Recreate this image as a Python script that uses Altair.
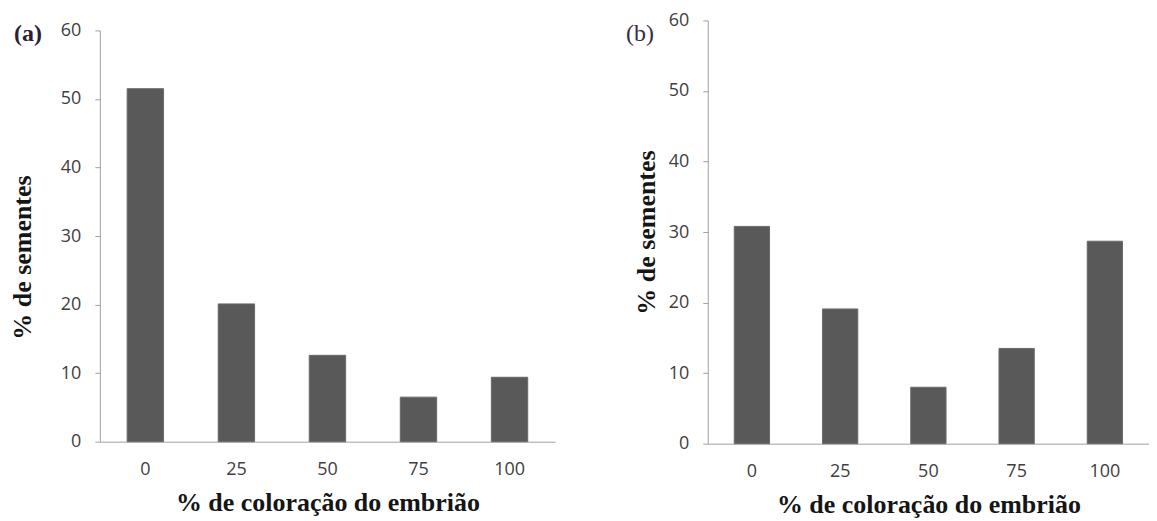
import altair as alt
import pandas as pd

categories = ["0", "25", "50", "75", "100"]
seeds_a = [51.5, 20.1, 12.6, 6.5, 9.4]
seeds_b = [30.8, 19.1, 8.0, 13.5, 28.7]
y_ticks = [0, 10, 20, 30, 40, 50, 60]
x_title = "% de coloração do embrião"
y_title = "% de sementes"

df_a = pd.DataFrame({"cat": categories, "pct": seeds_a})
df_b = pd.DataFrame({"cat": categories, "pct": seeds_b})

BAR = "#595959"


def panel(df, width, height, title_pad, title_y, tag, tag_x, tag_y, tag_weight, tag_color):
    x = alt.X(
        "cat:N",
        sort=categories,
        scale=alt.Scale(paddingInner=0.6, paddingOuter=0.3),
        axis=alt.Axis(title=x_title, labelAngle=0, ticks=False, labelPadding=19, titlePadding=11),
    )
    yaxis = dict(values=y_ticks, title=y_title, tickSize=5, labelPadding=14, titlePadding=title_pad, grid=False)
    if title_y is not None:
        yaxis["titleY"] = title_y
    y = alt.Y("pct:Q", scale=alt.Scale(domain=[0, 60]), axis=alt.Axis(**yaxis))
    bars = alt.Chart(df).mark_bar(color=BAR, stroke="#6a6a6a", strokeWidth=1).encode(x=x, y=y)
    label = alt.Chart(pd.DataFrame({"t": [tag]})).mark_text(
        font="Liberation Serif", fontSize=24, fontWeight=tag_weight, color=tag_color, align="center", baseline="middle"
    ).encode(x=alt.value(tag_x), y=alt.value(tag_y), text="t:N")
    return alt.layer(bars, label).properties(width=width, height=height)


pa = panel(df_a, 456, 412, 25, 227, "(a)", -72, 4, "bold", "#2a2030")
pb = panel(df_b, 442, 424, 9, None, "(b)", -68, 14, "normal", "#3a2a45")

spacer = alt.Chart(pd.DataFrame({"t": [0]})).mark_rule(stroke="#ffffff", strokeOpacity=0).encode(
    x=alt.value(0), y=alt.value(0)
).properties(width=456, height=1)

left = alt.vconcat(spacer, pa, spacing=0)

chart = alt.hconcat(left, pb, spacing=71).properties(
    padding={"top": 3, "left": 1, "right": 0, "bottom": 0}
).configure_view(stroke=None).configure_axis(
    domainColor="#a0a0a0",
    tickColor="#a0a0a0",
    labelFont="Open Sans",
    labelFontSize=18,
    labelColor="#404040",
    titleFont="Liberation Serif",
    titleFontWeight="bold",
    titleFontSize=26,
    titleColor="#151515",
)

chart.save("out.html", embed_options={"renderer": "svg", "actions": False})
